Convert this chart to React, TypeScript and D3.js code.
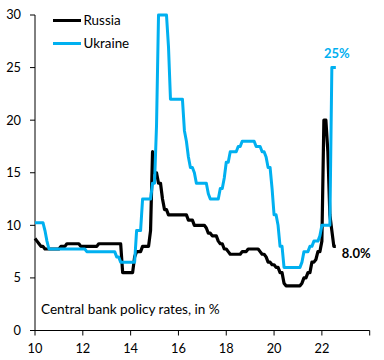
import React from "react";
import * as d3 from "d3";

const russiaMonths = [
  "2010-01","2010-02","2010-03","2010-04","2010-05","2010-06","2011-01","2011-02","2011-04","2011-05",
  "2011-11","2011-12","2012-08","2012-09","2013-08","2013-09","2014-02","2014-03","2014-04","2014-06",
  "2014-07","2014-10","2014-11","2014-12","2015-01","2015-02","2015-03","2015-04","2015-05","2015-06",
  "2015-07","2015-08","2016-05","2016-06","2016-08","2016-09","2017-02","2017-03","2017-04","2017-05",
  "2017-06","2017-08","2017-09","2017-10","2017-11","2017-12","2018-01","2018-02","2018-03","2018-08",
  "2018-09","2018-11","2018-12","2019-05","2019-06","2019-07","2019-08","2019-09","2019-10","2019-11",
  "2019-12","2020-01","2020-02","2020-03","2020-04","2020-05","2020-06","2020-07","2021-02","2021-03",
  "2021-04","2021-05","2021-06","2021-07","2021-08","2021-09","2021-10","2021-11","2021-12","2022-01",
  "2022-02","2022-03","2022-04","2022-05","2022-06","2022-07","2022-08",
];
const russiaRates = [
  8.75, 8.5, 8.25, 8.0, 8.0, 7.75, 7.75, 8.0, 8.0, 8.25,
  8.25, 8.0, 8.0, 8.25, 8.25, 5.5, 5.5, 7.0, 7.5, 7.5,
  8.0, 8.0, 9.5, 17.0, 15.0, 15.0, 14.0, 14.0, 12.5, 11.5,
  11.5, 11.0, 11.0, 10.5, 10.5, 10.0, 10.0, 9.75, 9.25, 9.25,
  9.0, 9.0, 8.5, 8.25, 8.25, 7.75, 7.75, 7.5, 7.25, 7.25,
  7.5, 7.5, 7.75, 7.75, 7.5, 7.25, 7.25, 7.0, 6.5, 6.5,
  6.25, 6.25, 6.0, 6.0, 5.5, 5.5, 4.5, 4.25, 4.25, 4.5,
  5.0, 5.0, 5.5, 5.5, 6.5, 6.5, 6.75, 7.5, 7.5, 8.5,
  20.0, 20.0, 17.0, 11.0, 9.5, 8.0, 8.0,
];

const ukraineMonths = [
  "2010-01","2010-05","2010-06","2010-07","2010-08","2012-02","2012-03","2013-05","2013-06","2013-07",
  "2013-08","2014-03","2014-04","2014-06","2014-07","2014-11","2014-12","2015-01","2015-02","2015-03",
  "2015-07","2015-08","2015-09","2016-03","2016-04","2016-05","2016-06","2016-07","2016-08","2016-09",
  "2016-10","2017-03","2017-04","2017-05","2017-09","2017-10","2017-11","2017-12","2018-01","2018-02",
  "2018-03","2018-06","2018-07","2018-08","2018-09","2019-03","2019-04","2019-06","2019-07","2019-08",
  "2019-09","2019-10","2019-11","2019-12","2020-01","2020-02","2020-03","2020-04","2020-05","2020-06",
  "2021-02","2021-03","2021-04","2021-06","2021-07","2021-08","2021-09","2021-11","2021-12","2022-01",
  "2022-05","2022-06","2022-08",
];
const ukraineRates = [
  10.25, 10.25, 9.5, 8.5, 7.75, 7.75, 7.5, 7.5, 7.0, 7.0,
  6.5, 6.5, 9.5, 9.5, 12.5, 12.5, 14.0, 14.0, 19.5, 30.0,
  30.0, 27.0, 22.0, 22.0, 19.0, 18.0, 16.5, 15.5, 15.5, 15.0,
  14.0, 14.0, 13.0, 12.5, 12.5, 13.5, 13.5, 14.5, 16.0, 16.0,
  17.0, 17.0, 17.5, 17.5, 18.0, 18.0, 17.5, 17.5, 17.0, 17.0,
  16.5, 15.5, 15.5, 13.5, 11.0, 11.0, 10.0, 8.0, 8.0, 6.0,
  6.0, 6.5, 7.5, 7.5, 8.0, 8.0, 8.5, 8.5, 9.0, 10.0,
  10.0, 25.0, 25.0,
];

const seriesNames = ["Russia", "Ukraine"];
const yTicks = [0, 5, 10, 15, 20, 25, 30];
const xTicks = [2010, 2012, 2014, 2016, 2018, 2020, 2022, 2024];
const xTickLabels = ["10", "12", "14", "16", "18", "20", "22", ""];
const noteText = "Central bank policy rates, in %";
const ukraineEndLabel = "25%";
const russiaEndLabel = "8.0%";

const BLUE = "#00B0F0";
const FONT = "Lato, 'Noto Sans', sans-serif";

function toYear(m: string): number {
  const [y, mo] = m.split("-").map(Number);
  return y + (mo - 1) / 12;
}

export default function App() {
  const x = d3.scaleLinear().domain([2010, 2024]).range([35, 369.7]);
  const y = d3.scaleLinear().domain([0, 30]).range([330.5, 15]);

  const line = d3
    .line<[number, number]>()
    .x((d) => x(d[0]))
    .y((d) => y(d[1]));

  const russia: [number, number][] = russiaMonths.map((m, i) => [toYear(m), russiaRates[i]]);
  const ukraine: [number, number][] = ukraineMonths.map((m, i) => [toYear(m), ukraineRates[i]]);
  const rLast = russia[russia.length - 1];
  const uLast = ukraine[ukraine.length - 1];
  const uFirst25 = ukraine[ukraine.length - 2];

  return (
    <svg
      width={384}
      height={360}
      style={{ position: "absolute", left: 0, top: 0, background: "#fff" }}
      fontFamily={FONT}
    >
      {/* y axis */}
      <line x1={35} x2={35} y1={y(30)} y2={y(0)} stroke="#000" strokeWidth={1} />
      {yTicks.map((t) => (
        <g key={t}>
          <line x1={30} x2={35} y1={y(t)} y2={y(t)} stroke="#000" strokeWidth={1} />
          <text x={21} y={y(t)} dy="0.35em" textAnchor="end" fontSize={12.8} fill="#000">
            {t}
          </text>
        </g>
      ))}
      {/* x axis */}
      <line x1={x(2010)} x2={x(2024)} y1={y(0)} y2={y(0)} stroke="#000" strokeWidth={1} />
      {xTicks.map((t, i) => (
        <g key={t}>
          <line x1={x(t)} x2={x(t)} y1={y(0)} y2={y(0) + 5} stroke="#000" strokeWidth={1} />
          <text x={x(t)} y={353} textAnchor="middle" fontSize={12.8} fill="#000">
            {xTickLabels[i]}
          </text>
        </g>
      ))}

      {/* series */}
      <path d={line(russia) || ""} fill="none" stroke="#000" strokeWidth={3.2} strokeLinejoin="round" />
      <path d={line(ukraine) || ""} fill="none" stroke={BLUE} strokeWidth={3} strokeLinejoin="round" />

      {/* end labels */}
      <text
        x={(x(uFirst25[0]) + x(uLast[0])) / 2 + 3}
        y={y(uLast[1]) - 10}
        textAnchor="middle"
        fontSize={13}
        fontWeight="bold"
        fill={BLUE}
      >
        {ukraineEndLabel}
      </text>
      <text x={x(rLast[0]) + 6} y={y(rLast[1]) + 12} fontSize={13} fontWeight="bold" fill="#000">
        {russiaEndLabel}
      </text>

      {/* legend */}
      <line x1={53} x2={81} y1={20.5} y2={20.5} stroke="#000" strokeWidth={3} />
      <text x={83.5} y={20.5} dy="0.35em" fontSize={13.4} fill="#000">
        {seriesNames[0]}
      </text>
      <line x1={53} x2={81} y1={43.5} y2={43.5} stroke={BLUE} strokeWidth={3} />
      <text x={83.5} y={43.5} dy="0.35em" fontSize={13.4} fill="#000">
        {seriesNames[1]}
      </text>

      {/* note */}
      <text x={41} y={314} fontSize={13.6} fill="#000">
        {noteText}
      </text>
    </svg>
  );
}
